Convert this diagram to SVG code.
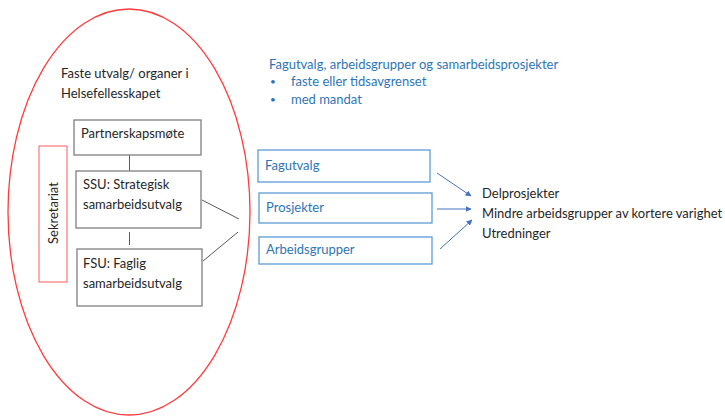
<svg xmlns="http://www.w3.org/2000/svg" width="725" height="417" viewBox="0 0 725 417">
<style>
text{font-family:Lato,"Liberation Sans",sans-serif;font-size:13px;fill:#262626}
.blue{fill:#2E75B6}
.bul{font-size:10px}
.gbox{fill:#fff;stroke:#7F7F7F;stroke-width:1.3}
.bbox{fill:#fff;stroke:#5B9BD5;stroke-width:1.3}
.line{stroke:#595959;stroke-width:1;fill:none}
.arr{stroke:#4472C4;stroke-width:1;fill:none;marker-end:url(#ah)}
</style>
<defs>
<marker id="ah" viewBox="0 0 10 10" refX="9" refY="5" markerWidth="6" markerHeight="6" orient="auto" markerUnits="userSpaceOnUse">
<path d="M0,0 L10,5 L0,10 z" fill="#4472C4"/>
</marker>
</defs>
<rect width="725" height="417" fill="#fff"/>
<g id="ellipse"><ellipse cx="129" cy="212" rx="121" ry="203" fill="none" stroke="#FF3B3B" stroke-width="1.3"/>
<text x="61" y="78">Faste utvalg/ organer i</text>
<text x="61" y="98">Helsefellesskapet</text></g>
<g id="connectors">
<line class="line" x1="129.5" y1="155" x2="129.5" y2="171"/>
<line class="line" x1="129.5" y1="232" x2="129.5" y2="245"/>
<line class="line" x1="202" y1="200" x2="239" y2="219"/>
<line class="line" x1="203" y1="261" x2="238" y2="232"/>
<line class="arr" x1="437" y1="173" x2="471" y2="196"/>
<line class="arr" x1="437" y1="209" x2="471" y2="209"/>
<line class="arr" x1="440" y1="249" x2="472" y2="220"/>
</g>
<g id="partnerskapsmote"><rect class="gbox" x="74" y="120" width="127" height="35"/><text x="81" y="138">Partnerskapsmøte</text></g>
<g id="ssu"><rect class="gbox" x="76" y="171" width="125" height="57"/><text x="83" y="189">SSU: Strategisk</text><text x="83" y="209">samarbeidsutvalg</text></g>
<g id="fsu"><rect class="gbox" x="77" y="249" width="125" height="57"/><text x="83" y="268">FSU: Faglig</text><text x="83" y="288">samarbeidsutvalg</text></g>
<g id="sekretariat"><rect x="39" y="146" width="28" height="136" fill="#fff" stroke="#FF5B5B" stroke-width="1"/><text transform="translate(58,213) rotate(-90)" text-anchor="middle">Sekretariat</text></g>
<g id="info">
<text class="blue" x="269" y="69">Fagutvalg, arbeidsgrupper og samarbeidsprosjekter</text>
<text class="blue bul" x="270" y="85">•</text><text class="blue" x="291" y="86">faste eller tidsavgrenset</text>
<text class="blue bul" x="270" y="103">•</text><text class="blue" x="291" y="104">med mandat</text>
</g>
<g id="fagutvalg"><rect class="bbox" x="258" y="150" width="172" height="32"/><text class="blue" x="265" y="170">Fagutvalg</text></g>
<g id="prosjekter"><rect class="bbox" x="259" y="193" width="173" height="30"/><text class="blue" x="266" y="212">Prosjekter</text></g>
<g id="arbeidsgrupper"><rect class="bbox" x="259" y="237" width="173" height="27"/><text class="blue" x="266" y="254">Arbeidsgrupper</text></g>
<g id="results">
<text x="482" y="198">Delprosjekter</text>
<text x="482" y="218">Mindre arbeidsgrupper av kortere varighet</text>
<text x="482" y="238">Utredninger</text>
</g>
</svg>
